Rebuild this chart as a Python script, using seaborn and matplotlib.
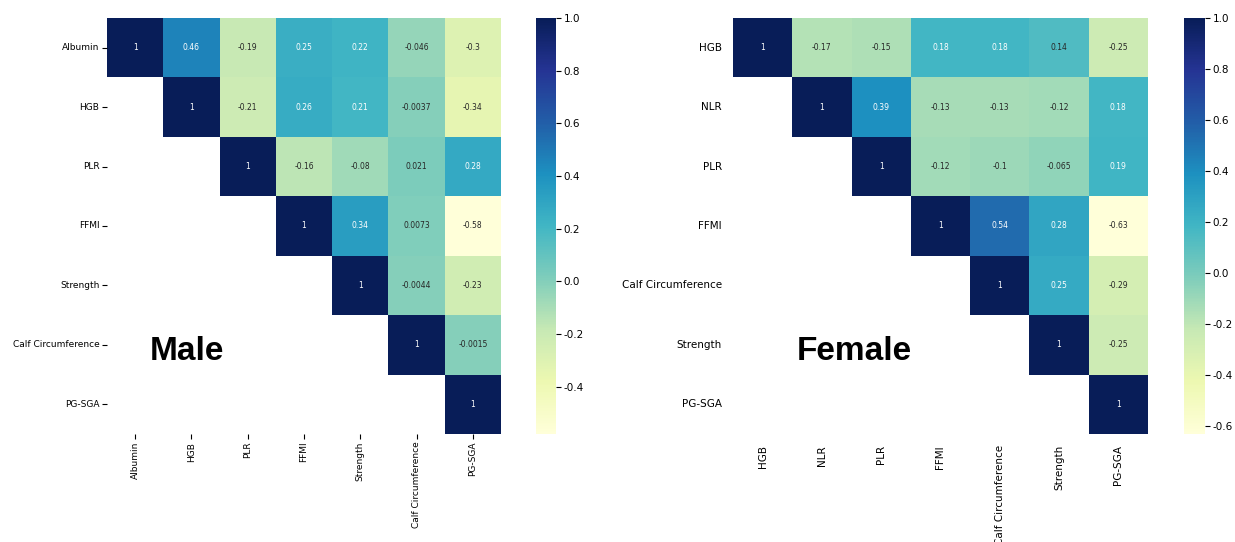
import numpy as np
import pandas as pd
import matplotlib
matplotlib.use("Agg")
import matplotlib.pyplot as plt
import seaborn as sns

male_vars = ["Albumin", "HGB", "PLR", "FFMI", "Strength", "Calf Circumference", "PG-SGA"]
male_upper = [
    [1, 0.46, -0.19, 0.25, 0.22, -0.046, -0.3],
    [1, -0.21, 0.26, 0.21, -0.0037, -0.34],
    [1, -0.16, -0.08, 0.021, 0.28],
    [1, 0.34, 0.0073, -0.58],
    [1, -0.0044, -0.23],
    [1, -0.0015],
    [1],
]

female_vars = ["HGB", "NLR", "PLR", "FFMI", "Calf Circumference", "Strength", "PG-SGA"]
female_upper = [
    [1, -0.17, -0.15, 0.18, 0.18, 0.14, -0.25],
    [1, 0.39, -0.13, -0.13, -0.12, 0.18],
    [1, -0.12, -0.1, -0.065, 0.19],
    [1, 0.54, 0.28, -0.63],
    [1, 0.25, -0.29],
    [1, -0.25],
    [1],
]


def full_matrix(names, upper):
    n = len(names)
    m = np.zeros((n, n))
    for i, row in enumerate(upper):
        for k, v in enumerate(row):
            m[i, i + k] = v
            m[i + k, i] = v
    return pd.DataFrame(m, index=names, columns=names)


plt.rcParams['axes.unicode_minus'] = False
plt.rcParams['font.family'] = ['DejaVu Sans']

fig = plt.figure(figsize=(12.35, 5.42), dpi=100)
W, H = 1235, 542


def box(x0, y0, x1, y1):
    return [x0 / W, 1 - y1 / H, (x1 - x0) / W, (y1 - y0) / H]


ax1 = fig.add_axes(box(107, 18, 501, 434))
cax1 = fig.add_axes(box(536, 18, 556, 434))
ax2 = fig.add_axes(box(733, 18, 1148, 434))
cax2 = fig.add_axes(box(1184, 18, 1205, 434))

male = full_matrix(male_vars, male_upper)
female = full_matrix(female_vars, female_upper)
mask_m = np.tril(np.ones_like(male, dtype=bool), k=-1)
mask_f = np.tril(np.ones_like(female, dtype=bool), k=-1)

sns.heatmap(male, mask=mask_m, cmap="YlGnBu", annot=True, annot_kws={"size": 5.5},
            linewidths=0, ax=ax1, cbar_ax=cax1)
sns.heatmap(female, mask=mask_f, cmap="YlGnBu", annot=True, annot_kws={"size": 5.5},
            linewidths=0, ax=ax2, cbar_ax=cax2)

# left panel: small labels with tick marks
ax1.tick_params(axis="both", labelsize=6.5, length=3.5, width=0.8, pad=2)
ax1.set_xticklabels(male_vars, rotation=90)
ax1.set_yticklabels(male_vars, rotation=0)

# right panel: bigger labels, no tick marks
ax2.tick_params(axis="both", labelsize=7.5, length=0, pad=8)
ax2.set_xticklabels(female_vars, rotation=90)
ax2.set_yticklabels(female_vars, rotation=0)

for cax in (cax1, cax2):
    cax.tick_params(labelsize=7.5, length=3.5, width=0.8, pad=2)

fig.text(150 / W, 1 - 360 / H, "Male", fontsize=24, fontweight="bold",
         family="Liberation Sans", ha="left", va="baseline")
fig.text(797 / W, 1 - 360 / H, "Female", fontsize=24, fontweight="bold",
         family="Liberation Sans", ha="left", va="baseline")

fig.savefig("out.png", dpi=100)
